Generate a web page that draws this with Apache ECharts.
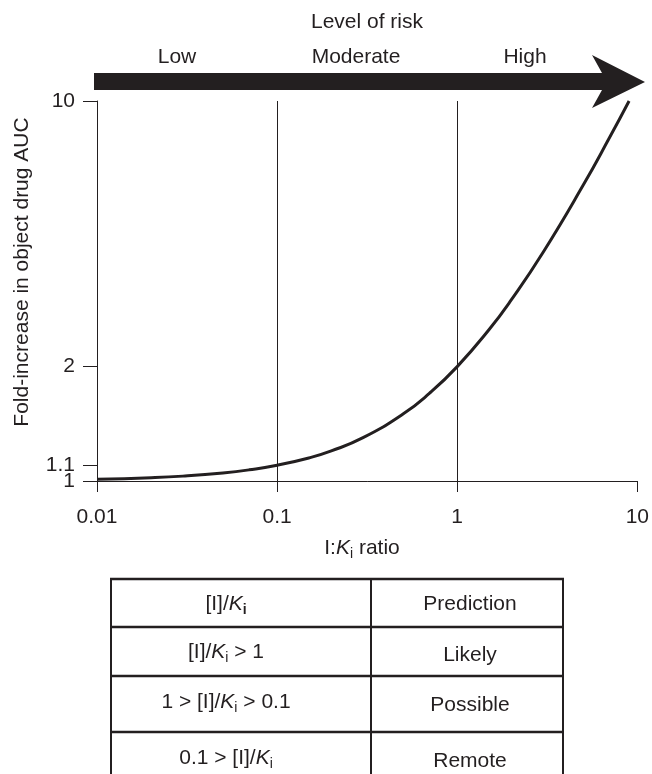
<!DOCTYPE html>
<html>
<head>
<meta charset="utf-8">
<script src="https://cdn.jsdelivr.net/npm/echarts@6/dist/echarts.min.js"></script>
<style>html,body{margin:0;padding:0;background:#fff}#c{width:652px;height:774px}</style>
</head>
<body>
<div id="c"></div>
<script>
// Data
var ratioValues = [0.01, 0.02, 0.03, 0.05, 0.07, 0.1, 0.15, 0.2, 0.3, 0.5, 0.7, 1, 1.5, 2, 3, 5, 7, 9];
var foldValues  = [1.01, 1.02, 1.03, 1.05, 1.07, 1.1, 1.15, 1.2, 1.3, 1.5, 1.7, 2, 2.5, 3, 4, 6, 8, 10];
var yTickValuesMain = [1, 2, 10];
var yTickValuesExtra = [1.1];
var xTickValues = [0.01, 0.1, 1, 10];
var riskBoundaries = [0.1, 1];
var riskLevels = ['Low', 'Moderate', 'High'];
var tableHeader = ['[I]/K_i', 'Prediction'];
var tableRows = [
  ['[I]/K_i > 1', 'Likely'],
  ['1 > [I]/K_i > 0.1', 'Possible'],
  ['0.1 > [I]/K_i', 'Remote']
];

var FONT = '"Liberation Sans", Arial, Helvetica, sans-serif';
var INK = '#231f20';
var chart = echarts.init(document.getElementById('c'));

function richText(s, boldSub) {
  var parts = s.split('K_i');
  var out = '';
  for (var i = 0; i < parts.length; i++) {
    if (parts[i]) out += '{n|' + parts[i] + '}';
    if (i < parts.length - 1) out += '{k|K}' + (boldSub ? '{sb|i}' : '{s|i}');
  }
  return out;
}
var richStyles = {
  n: {fontSize: 21, fontFamily: FONT, fill: INK, color: INK, lineHeight: 26},
  k: {fontSize: 21, fontFamily: FONT, fontStyle: 'italic', fill: INK, color: INK, lineHeight: 26},
  s: {fontSize: 14, fontFamily: FONT, fill: INK, color: INK, lineHeight: 26, padding: [12, 0, 0, 0]},
  sb: {fontSize: 14, fontFamily: FONT, fontWeight: 'bold', fill: INK, color: INK, lineHeight: 26, padding: [12, 0, 0, 0]}
};

var graphics = [];
// Arrow
graphics.push({
  type: 'polygon', silent: true,
  shape: {points: [[94, 73], [602, 73], [592, 55], [645, 82], [592, 108], [602, 90], [94, 90]]},
  style: {fill: INK}
});
graphics.push({type: 'text', x: 367, y: 22, style: {text: 'Level of risk', font: '21px ' + FONT, fill: INK, align: 'center', verticalAlign: 'middle'}});
var riskX = [177, 356, 525];
riskLevels.forEach(function (t, i) {
  graphics.push({type: 'text', x: riskX[i], y: 57, style: {text: t, font: '21px ' + FONT, fill: INK, align: 'center', verticalAlign: 'middle'}});
});
// Axis names
graphics.push({type: 'text', x: 22, y: 272, rotation: Math.PI / 2,
  style: {text: 'Fold-increase in object drug AUC', font: '21px ' + FONT, fill: INK, align: 'center', verticalAlign: 'middle'}});
graphics.push({type: 'text', x: 362, y: 548,
  style: {text: '{n|I:}{k|K}{s|i}{n| ratio}', rich: richStyles, align: 'center', verticalAlign: 'middle'}});

// Table
var tL = 111, tR = 563, tD = 371, tBottom = 774;
var hLines = [579, 627, 676, 732];
hLines.forEach(function (y) {
  graphics.push({type: 'line', silent: true, shape: {x1: tL - 1, y1: y, x2: tR + 1, y2: y}, style: {stroke: INK, lineWidth: 2.5}});
});
[tL, tD, tR].forEach(function (x) {
  graphics.push({type: 'line', silent: true, shape: {x1: x, y1: hLines[0], x2: x, y2: tBottom}, style: {stroke: INK, lineWidth: 2}});
});
var rowY = [604, 652, 702, 758];
var allRows = [tableHeader].concat(tableRows);
allRows.forEach(function (r, i) {
  graphics.push({type: 'text', x: 226, y: rowY[i], style: {text: richText(r[0], i === 0), rich: richStyles, align: 'center', verticalAlign: 'middle'}});
  graphics.push({type: 'text', x: 470, y: rowY[i] + (i === 0 ? 0 : 3), style: {text: r[1], font: '21px ' + FONT, fill: INK, align: 'center', verticalAlign: 'middle'}});
});

function yAxisDef(values, showLine) {
  return {
    type: 'log', logBase: 10, min: 1, max: 10, position: 'left', offset: 0,
    axisLine: {show: showLine, lineStyle: {color: INK, width: 1}},
    axisTick: {show: true, length: 14, customValues: values, lineStyle: {color: INK, width: 1}},
    axisLabel: {color: INK, fontSize: 21, fontFamily: FONT, margin: 22, customValues: values,
      showMinLabel: true, showMaxLabel: true, hideOverlap: false,
      formatter: function (v) { return String(+(+v).toPrecision(3)); }},
    splitLine: {show: false}
  };
}

var option = {
  backgroundColor: '#fff',
  animation: false,
  grid: {left: 97, right: 14.5, top: 101, bottom: 293, containLabel: false},
  xAxis: {
    type: 'log', logBase: 10, min: 0.01, max: 10,
    axisLine: {show: true, lineStyle: {color: INK, width: 1}},
    axisTick: {show: true, length: 11, customValues: xTickValues, lineStyle: {color: INK, width: 1}},
    axisLabel: {color: INK, fontSize: 21, fontFamily: FONT, margin: 26, customValues: xTickValues,
      showMinLabel: true, showMaxLabel: true, hideOverlap: false,
      formatter: function (v) { return String(+(+v).toPrecision(3)); }},
    splitLine: {show: false}, minorTick: {show: false}
  },
  yAxis: [yAxisDef(yTickValuesMain, true), yAxisDef(yTickValuesExtra, false)],
  series: [{
    type: 'line',
    yAxisIndex: 0,
    data: ratioValues.map(function (x, i) { return [x, foldValues[i]]; }),
    showSymbol: false, symbol: 'none', smooth: true,
    lineStyle: {color: INK, width: 3},
    silent: true,
    markLine: {
      silent: true, symbol: ['none', 'none'], label: {show: false},
      lineStyle: {color: INK, width: 1, type: 'solid'},
      data: riskBoundaries.map(function (v) { return {xAxis: v}; })
    }
  }],
  graphic: graphics
};
chart.setOption(option);
</script>
</body>
</html>
